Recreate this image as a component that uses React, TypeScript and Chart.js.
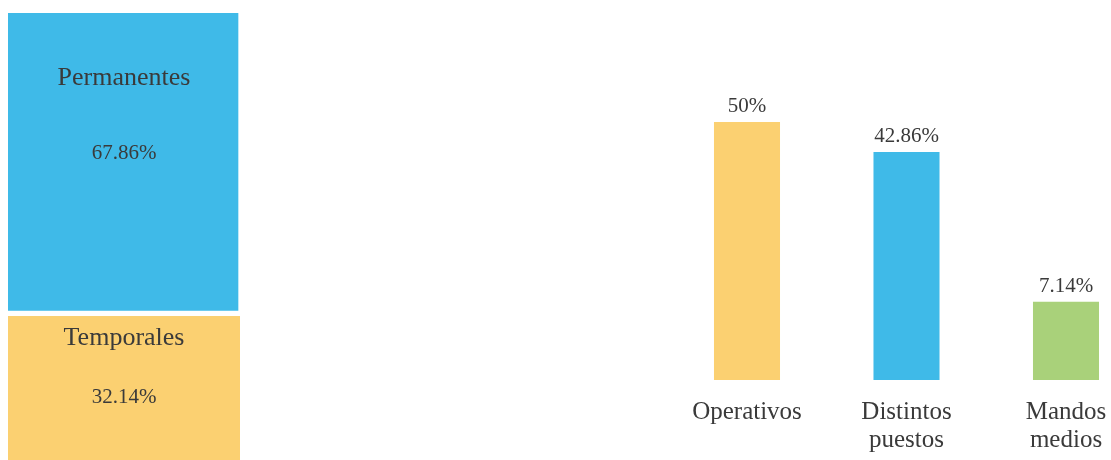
import React, { useEffect, useRef } from "react";
import { Chart, registerables } from "chart.js";

Chart.register(...registerables);

// ---- data ----
const contractTypes = ["Temporales", "Permanentes"];
const contractShares = [32.14, 67.86];
const contractColors = ["#FBD071", "#3FBAE8"];

const jobCategories = [["Operativos"], ["Distintos", "puestos"], ["Mandos", "medios"]];
const jobShares = [50, 42.86, 7.14];
const jobColors = ["#FBD071", "#3FBAE8", "#A9D17A"];

const AXIS_MIN = -11.5;
const AXIS_MAX = 60;

const FONT = "'Liberation Serif', 'Times New Roman', serif";
const TEXT_COLOR = "#3a3a3a";

const fmt = (v: number) => `${v}%`;

const insideLabels = {
  id: "insideLabels",
  afterDatasetsDraw(chart: any) {
    const ctx = chart.ctx;
    ctx.save();
    ctx.fillStyle = TEXT_COLOR;
    ctx.textAlign = "center";
    ctx.textBaseline = "middle";
    chart.data.datasets.forEach((ds: any, i: number) => {
      const bar = chart.getDatasetMeta(i).data[0] as any;
      const top = Math.min(bar.y, bar.base);
      const h = Math.abs(bar.base - bar.y);
      const yName = top + 0.27 * h - 17;
      const yValue = yName + 0.1 * h + 45;
      ctx.font = `26px ${FONT}`;
      ctx.fillText(contractTypes[i], bar.x, yName);
      ctx.font = `21px ${FONT}`;
      ctx.fillText(fmt(contractShares[i]), bar.x, yValue);
    });
    ctx.restore();
  },
};

const topLabels = {
  id: "topLabels",
  afterDatasetsDraw(chart: any) {
    const ctx = chart.ctx;
    ctx.save();
    ctx.fillStyle = TEXT_COLOR;
    ctx.textAlign = "center";
    ctx.textBaseline = "middle";
    ctx.font = `21px ${FONT}`;
    chart.getDatasetMeta(0).data.forEach((bar: any, i: number) => {
      ctx.fillText(fmt(jobShares[i]), bar.x, bar.y - 15);
    });
    ctx.restore();
  },
};

function ContractChart() {
  const ref = useRef<HTMLCanvasElement>(null);
  useEffect(() => {
    const chart = new Chart(ref.current as HTMLCanvasElement, {
      type: "bar",
      data: {
        labels: ["Contrato"],
        datasets: contractTypes.map((name, i) => ({
          label: name,
          data: [contractShares[i]],
          backgroundColor: contractColors[i],
          borderColor: "#ffffff",
          borderWidth: i === 1 ? { top: 0, left: 0, right: 2, bottom: 6 } : 0,
          borderSkipped: false,
          barPercentage: 1,
          categoryPercentage: 1,
        })),
      },
      options: {
        animation: false,
        responsive: false,
        maintainAspectRatio: false,
        layout: { padding: { top: 13, left: 8, right: 10, bottom: 0 } },
        plugins: { legend: { display: false }, tooltip: { enabled: false } },
        scales: {
          x: { display: false, stacked: true },
          y: { display: false, stacked: true, min: 0, max: 100 },
        },
      } as any,
      plugins: [insideLabels],
    });
    return () => chart.destroy();
  }, []);
  return <canvas ref={ref} width={250} height={460} style={{ display: "block" }} />;
}

function JobChart() {
  const ref = useRef<HTMLCanvasElement>(null);
  useEffect(() => {
    const chart = new Chart(ref.current as HTMLCanvasElement, {
      type: "bar",
      data: {
        labels: jobCategories,
        datasets: [
          {
            data: jobShares,
            backgroundColor: jobColors,
            base: AXIS_MIN,
            barPercentage: 1,
            categoryPercentage: 0.414,
            clip: false,
          },
        ],
      },
      options: {
        animation: false,
        responsive: false,
        maintainAspectRatio: false,
        layout: { padding: { top: 80, left: 107, right: 45, bottom: 0 } },
        plugins: { legend: { display: false }, tooltip: { enabled: false } },
        scales: {
          x: {
            offset: false,
            grid: { display: false, drawTicks: false },
            border: { display: false },
            ticks: {
              color: TEXT_COLOR,
              font: { family: FONT, size: 25, lineHeight: 1.12 },
              padding: 18,
              maxRotation: 0,
              autoSkip: false,
            },
            afterFit: (scale: any) => {
              // let the layout padding, not the label overhang, set the plot edges
              scale.paddingLeft = 0;
              scale.paddingRight = 0;
            },
          },
          y: { display: false, min: AXIS_MIN, max: AXIS_MAX },
        },
      } as any,
      plugins: [topLabels],
    });
    return () => chart.destroy();
  }, []);
  return <canvas ref={ref} width={471} height={472} style={{ display: "block" }} />;
}

export default function App() {
  return (
    <div
      style={{
        position: "absolute",
        left: 0,
        top: 0,
        width: 1111,
        height: 460,
        overflow: "hidden",
        background: "#fff",
      }}
    >
      <div style={{ position: "absolute", left: 0, top: 0 }}>
        <ContractChart />
      </div>
      <div style={{ position: "absolute", left: 640, top: 0 }}>
        <JobChart />
      </div>
    </div>
  );
}
